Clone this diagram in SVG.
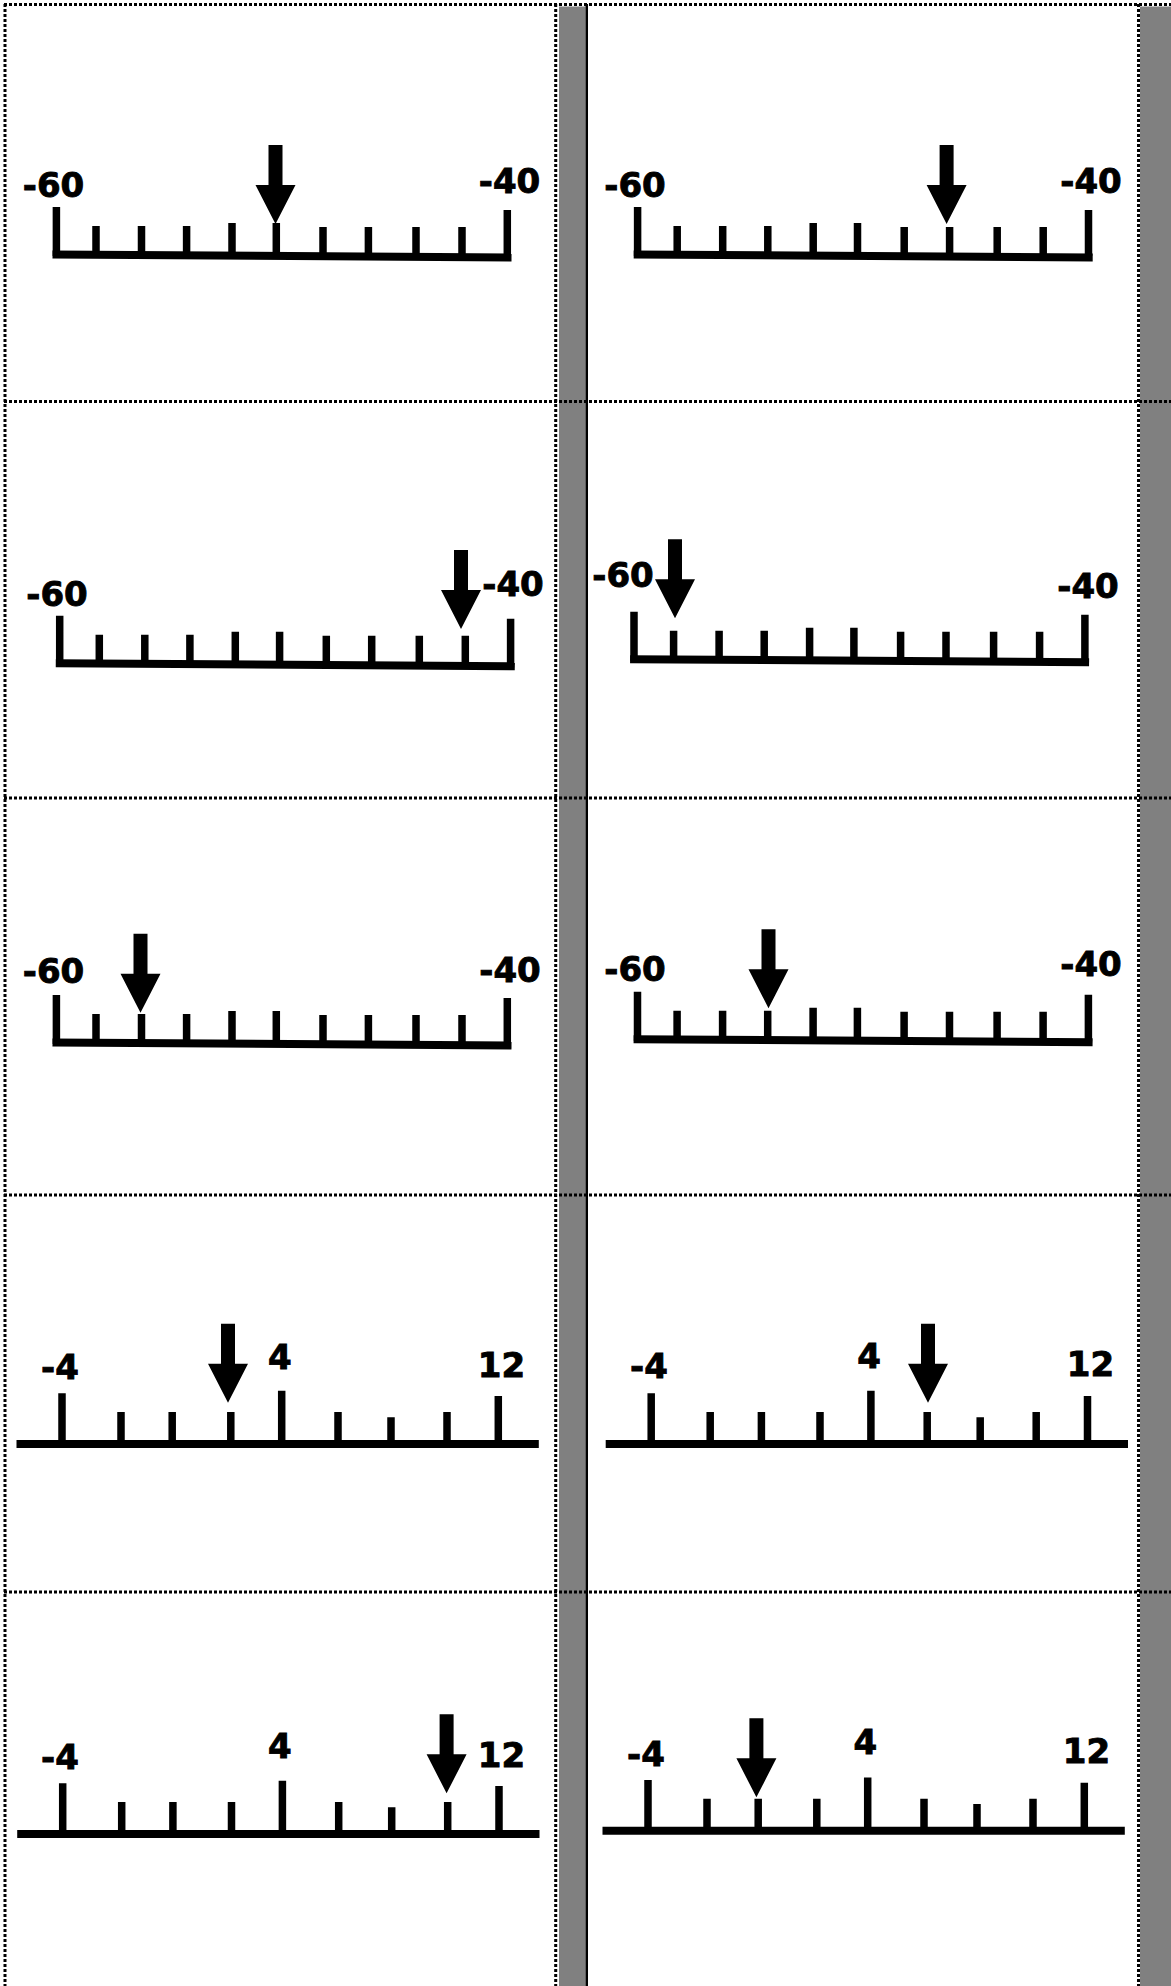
<svg xmlns="http://www.w3.org/2000/svg" xmlns:xlink="http://www.w3.org/1999/xlink" width="1171" height="1986" viewBox="0 0 1171 1986">
<style>
.dot{stroke:#000;stroke-width:3;stroke-dasharray:3 2;fill:none}
.gbar{fill:#808080}
.base{stroke:#000;stroke-width:8;fill:none}
.tick{stroke:#000;stroke-width:7.5;fill:none}
.lbl{font-family:"DejaVu Sans","Verdana",sans-serif;font-weight:bold;font-size:34px;fill:#000;stroke:#000;stroke-width:0.9;text-anchor:middle}
</style>
<defs>
<path id="arrow" d="M-7,-79 H7 V-39 H20 L0,0 L-20,-39 H-7 Z" fill="#000"/>
</defs>
<rect width="1171" height="1986" fill="#fff"/>
<g id="frame">
<rect class="gbar" x="559" y="6.5" width="26.5" height="1980"/>
<rect class="gbar" x="1140" y="6.5" width="31" height="1980"/>
<rect x="585.5" y="4" width="2.5" height="1982" fill="#000"/>
<line class="dot" x1="4" y1="4.5" x2="1171" y2="4.5"/>
<line class="dot" x1="5" y1="4" x2="5" y2="1986"/>
<line class="dot" x1="555.7" y1="4" x2="555.7" y2="1986"/>
<line class="dot" x1="1138.5" y1="4" x2="1138.5" y2="1986"/>
<line class="dot" x1="4" y1="401.5" x2="1171" y2="401.5"/>
<line class="dot" x1="4" y1="798" x2="1171" y2="798"/>
<line class="dot" x1="4" y1="1195" x2="1171" y2="1195"/>
<line class="dot" x1="4" y1="1592" x2="1171" y2="1592"/>
</g>

<g id="ruler-r1c1">
<g transform="translate(0,0)">
<line class="base" x1="52.5" y1="254.5" x2="511.5" y2="257.5"/>
<path class="tick" d="M56.4,207V256M96,226V256M141.5,226V256M186.6,226V256M232,223V256M276.3,223V256M323,227V256M368.4,227V256M416,227V256M462,227V256M507.3,210V256"/>
</g>
<text class="lbl" x="53.5" y="197">-60</text>
<text class="lbl" x="509.5" y="193">-40</text>
<use xlink:href="#arrow" href="#arrow" transform="translate(275.5,224)"/>
</g>

<g id="ruler-r1c2">
<g transform="translate(581.2,0)">
<line class="base" x1="52.5" y1="254.5" x2="511.5" y2="257.5"/>
<path class="tick" d="M56.4,207V256M96,226V256M141.5,226V256M186.6,226V256M232,223V256M276.3,223V256M323,227V256M368.4,227V256M416,227V256M462,227V256M507.3,210V256"/>
</g>
<text class="lbl" x="635" y="197">-60</text>
<text class="lbl" x="1091" y="193">-40</text>
<use xlink:href="#arrow" href="#arrow" transform="translate(946.6,224)"/>
</g>

<g id="ruler-r2c1">
<g transform="translate(3.3,408.7)">
<line class="base" x1="52.5" y1="254.5" x2="511.5" y2="257.5"/>
<path class="tick" d="M56.4,207V256M96,226V256M141.5,226V256M186.6,226V256M232,223V256M276.3,223V256M323,227V256M368.4,227V256M416,227V256M462,227V256M507.3,210V256"/>
</g>
<text class="lbl" x="57" y="606">-60</text>
<text class="lbl" x="513" y="596">-40</text>
<use xlink:href="#arrow" href="#arrow" transform="translate(461,629)"/>
</g>

<g id="ruler-r2c2">
<g transform="translate(577.6,404.7)">
<line class="base" x1="52.5" y1="254.5" x2="511.5" y2="257.5"/>
<path class="tick" d="M56.4,207V256M96,226V256M141.5,226V256M186.6,226V256M232,223V256M276.3,223V256M323,227V256M368.4,227V256M416,227V256M462,227V256M507.3,210V256"/>
</g>
<text class="lbl" x="623" y="586.7">-60</text>
<text class="lbl" x="1088" y="597.7">-40</text>
<use xlink:href="#arrow" href="#arrow" transform="translate(675,618.3)"/>
</g>

<g id="ruler-r3c1">
<g transform="translate(0,788)">
<line class="base" x1="52.5" y1="254.5" x2="511.5" y2="257.5"/>
<path class="tick" d="M56.4,207V256M96,226V256M141.5,226V256M186.6,226V256M232,223V256M276.3,223V256M323,227V256M368.4,227V256M416,227V256M462,227V256M507.3,210V256"/>
</g>
<text class="lbl" x="53.5" y="983.3">-60</text>
<text class="lbl" x="510" y="981.7">-40</text>
<use xlink:href="#arrow" href="#arrow" transform="translate(140.5,1012.7)"/>
</g>

<g id="ruler-r3c2">
<g transform="translate(581.1,784.7)">
<line class="base" x1="52.5" y1="254.5" x2="511.5" y2="257.5"/>
<path class="tick" d="M56.4,207V256M96,226V256M141.5,226V256M186.6,226V256M232,223V256M276.3,223V256M323,227V256M368.4,227V256M416,227V256M462,227V256M507.3,210V256"/>
</g>
<text class="lbl" x="635" y="981">-60</text>
<text class="lbl" x="1091" y="976">-40</text>
<use xlink:href="#arrow" href="#arrow" transform="translate(768.5,1008.3)"/>
</g>

<g id="ruler-r4c1">
<g transform="translate(0,0)">
<line class="base" x1="16.5" y1="1444" x2="538.8" y2="1444"/>
<path class="tick" d="M62,1393.3V1444M121,1412V1444M172.2,1412V1444M230.8,1412V1444M281.7,1390.7V1444M338,1412V1444M391,1417.3V1444M447,1412V1444M498.3,1396V1444"/>
</g>
<text class="lbl" x="60" y="1379.3">-4</text>
<text class="lbl" x="279.8" y="1369.3">4</text>
<text class="lbl" x="501.4" y="1376.7">12</text>
<use xlink:href="#arrow" href="#arrow" transform="translate(228,1402.7)"/>
</g>

<g id="ruler-r4c2">
<g transform="translate(589.2,0)">
<line class="base" x1="16.5" y1="1444" x2="538.8" y2="1444"/>
<path class="tick" d="M62,1393.3V1444M121,1412V1444M172.2,1412V1444M230.8,1412V1444M281.7,1390.7V1444M338,1412V1444M391,1417.3V1444M447,1412V1444M498.3,1396V1444"/>
</g>
<text class="lbl" x="649" y="1378.3">-4</text>
<text class="lbl" x="869" y="1368.3">4</text>
<text class="lbl" x="1090.5" y="1376">12</text>
<use xlink:href="#arrow" href="#arrow" transform="translate(928,1402.7)"/>
</g>

<g id="ruler-r5c1">
<g transform="translate(0.7,390)">
<line class="base" x1="16.5" y1="1444" x2="538.8" y2="1444"/>
<path class="tick" d="M62,1393.3V1444M121,1412V1444M172.2,1412V1444M230.8,1412V1444M281.7,1390.7V1444M338,1412V1444M391,1417.3V1444M447,1412V1444M498.3,1396V1444"/>
</g>
<text class="lbl" x="60" y="1769.3">-4</text>
<text class="lbl" x="279.8" y="1758.3">4</text>
<text class="lbl" x="501.4" y="1766.7">12</text>
<use xlink:href="#arrow" href="#arrow" transform="translate(446.6,1793.3)"/>
</g>

<g id="ruler-r5c2">
<g transform="translate(586,386.7)">
<line class="base" x1="16.5" y1="1444" x2="538.8" y2="1444"/>
<path class="tick" d="M62,1393.3V1444M121,1412V1444M172.2,1412V1444M230.8,1412V1444M281.7,1390.7V1444M338,1412V1444M391,1417.3V1444M447,1412V1444M498.3,1396V1444"/>
</g>
<text class="lbl" x="646" y="1766">-4</text>
<text class="lbl" x="865.4" y="1754">4</text>
<text class="lbl" x="1086.5" y="1762.7">12</text>
<use xlink:href="#arrow" href="#arrow" transform="translate(756.4,1797.3)"/>
</g>
</svg>
